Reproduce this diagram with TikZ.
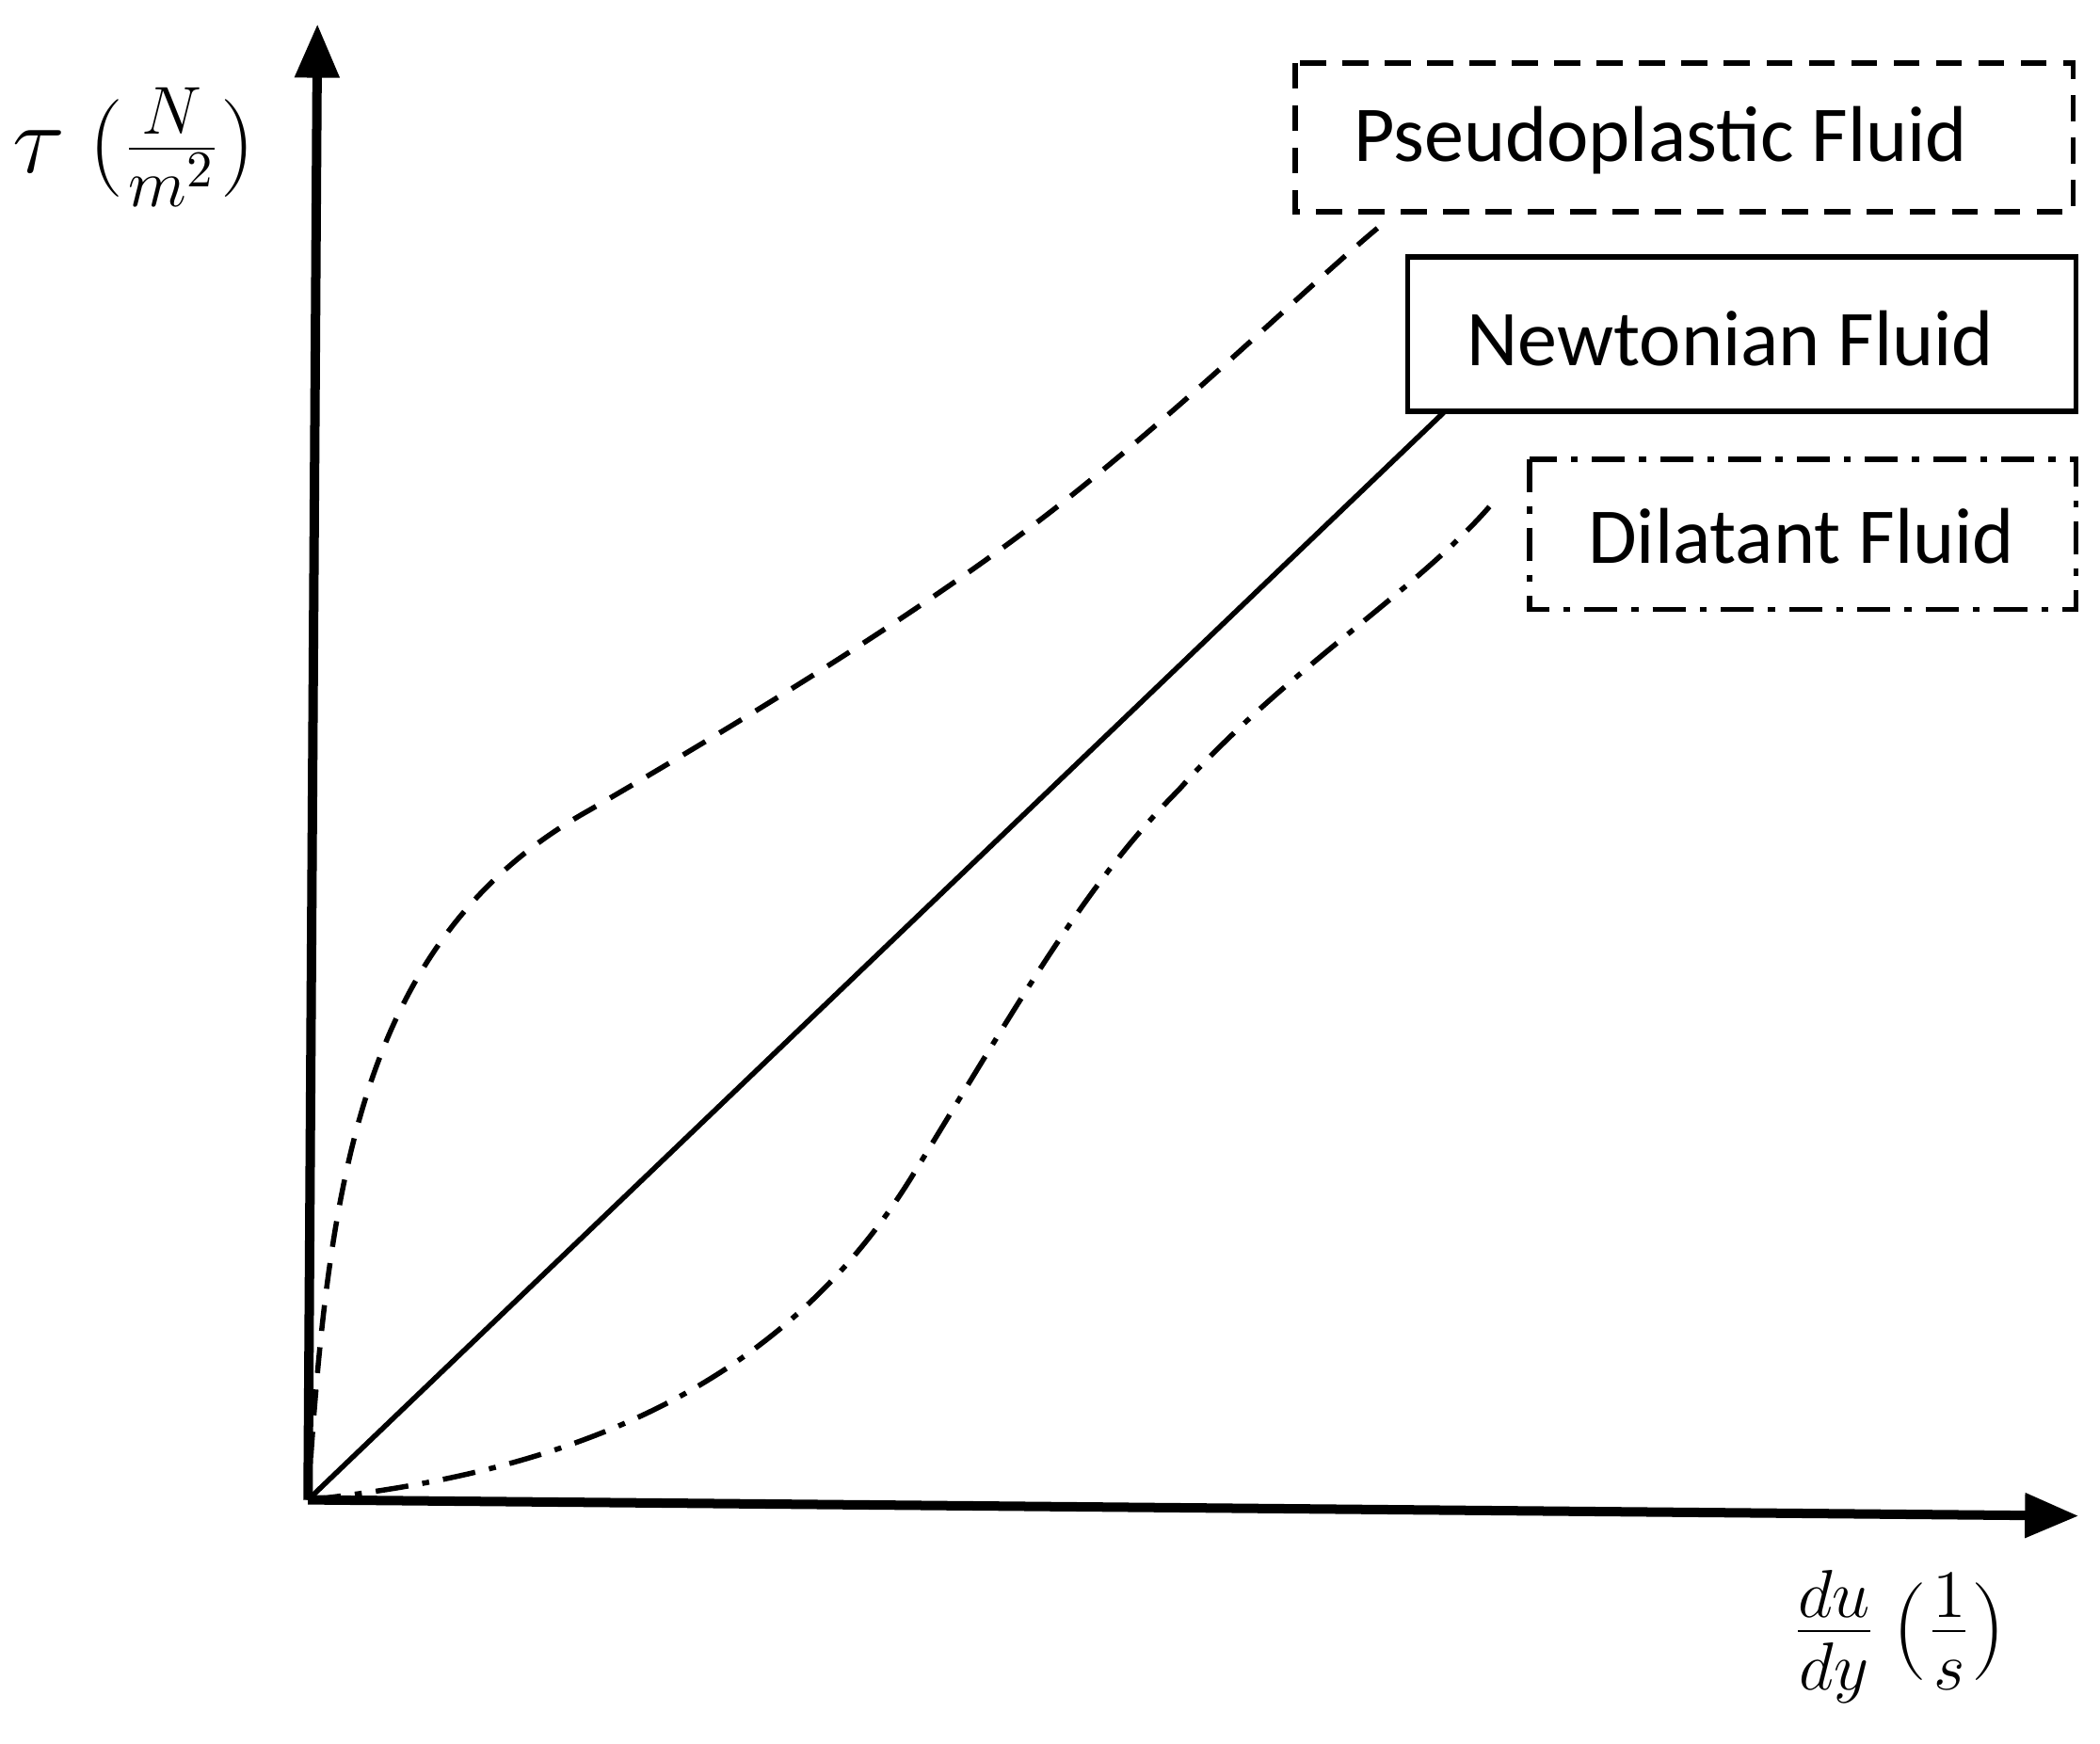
\documentclass[tikz,border=0pt]{standalone}
\usepackage{fontspec}
\setmainfont{Carlito}
\usetikzlibrary{arrows.meta}
\begin{document}
\begin{tikzpicture}[x=0.01cm,y=-0.01cm,
  axis/.style={line width=2pt,-{Triangle[length=0.4cm,width=0.32cm]}},
  curve/.style={line width=1.1pt},
  dsh/.style={dash pattern=on 5.5pt off 3.5pt},
  dshdot/.style={dash pattern=on 7pt off 3pt on 1.5pt off 3pt},
  lbl/.style={font=\fontsize{16.8}{20}\selectfont,inner sep=0pt}]
\useasboundingbox (0,0) rectangle (1568,1302);
\coordinate (o) at (230,1120);
\coordinate (ytop) at (237,18);
\coordinate (xend) at (1552,1132);
\draw[axis] (o) -- (ytop);
\draw[axis] (o) -- (xend);
% boxes
\draw[curve,dsh] (967,47) rectangle (1548,158);
\node[lbl] (pl) at (1240,105) {Pseudoplastic Fluid};
\draw[curve] (1051,192) rectangle (1550,307);
\node[lbl] (nl) at (1292,253) {Newtonian Fluid};
\draw[curve,dshdot] (1142,343) rectangle (1550,455);
\node[lbl] (dl) at (1345,400) {Dilatant Fluid};
% curves
\draw[curve,dsh] (o) .. controls (245,880) and (270,700) .. (440,605)
  .. controls (560,535) and (700,450) .. (800,370) .. controls (900,290) and (980,210) .. (1035,165);
\draw[curve] (o) -- (1078,308);
\draw[curve,dshdot] (o) .. controls (420,1100) and (580,1040) .. (680,880)
  .. controls (760,750) and (810,660) .. (880,590) .. controls (960,500) and (1060,440) .. (1115,375);
% axis labels
\node[font=\fontsize{22}{26}\selectfont,inner sep=0pt] (ty) at (100,110) {$\tau\ (\frac{N}{m^2})$};
\node[font=\fontsize{22}{26}\selectfont,inner sep=0pt] (tx) at (1418,1222) {$\frac{du}{dy}\,(\frac{1}{s})$};
\end{tikzpicture}
\end{document}
